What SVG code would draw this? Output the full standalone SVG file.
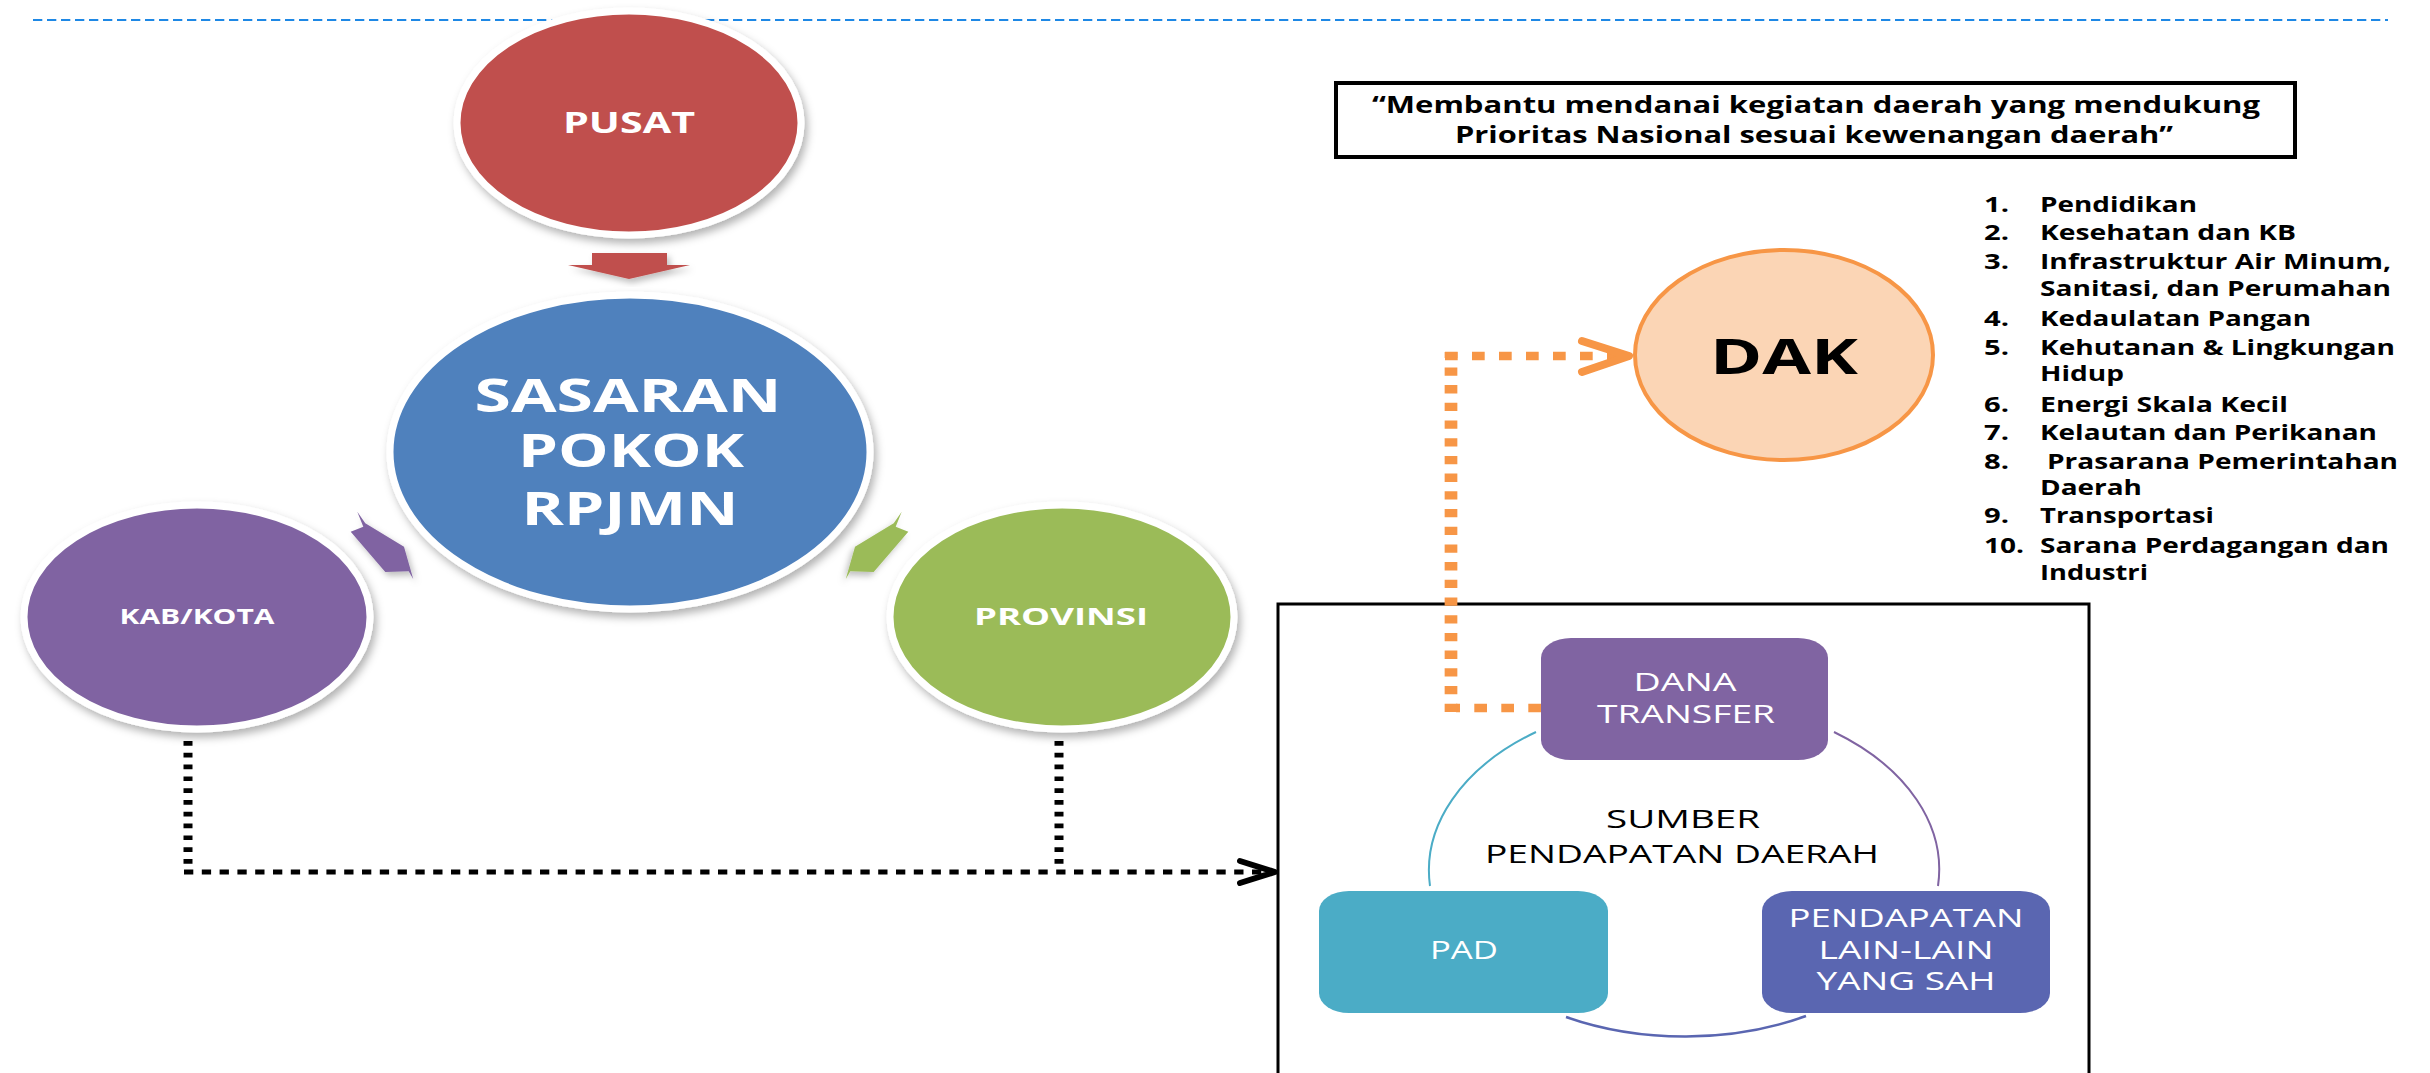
<svg xmlns="http://www.w3.org/2000/svg" width="2430" height="1073" viewBox="0 0 2430 1073">
<defs>
<filter id="sh" x="-20%" y="-20%" width="140%" height="140%">
<feDropShadow dx="3" dy="5" stdDeviation="4" flood-color="#000" flood-opacity="0.3"/>
</filter>
<filter id="sh2" x="-30%" y="-30%" width="160%" height="160%">
<feDropShadow dx="3" dy="4" stdDeviation="3" flood-color="#000" flood-opacity="0.25"/>
</filter>
<style>
.bubble{stroke:#fff;stroke-width:7;filter:url(#sh)}
.wb{font-family:"Open Sans","Liberation Sans",sans-serif;font-weight:bold;fill:#fff;text-anchor:middle}
.wr{font-family:"Open Sans","Liberation Sans",sans-serif;fill:#fff;text-anchor:middle}
.kb{font-family:"Open Sans","Liberation Sans",sans-serif;font-weight:bold;fill:#000}
.kr{font-family:"Open Sans","Liberation Sans",sans-serif;fill:#000;text-anchor:middle}
.list{font-size:21px}
.dotk{fill:none;stroke:#000}
.doto{fill:none;stroke:#F79646}
</style>
</defs>
<rect width="2430" height="1073" fill="#fff"/>
<line x1="33" y1="20" x2="2388" y2="20" stroke="#1E88E5" stroke-width="2.2" stroke-dasharray="9.3 4.7"/>

<g id="pusat">
<ellipse class="bubble" cx="629" cy="123" rx="172" ry="112" fill="#C0504D"/>
<text class="wb" x="629" y="133" font-size="29" textLength="132" lengthAdjust="spacingAndGlyphs">PUSAT</text>
</g>
<g id="arrow-pusat">
<polygon points="592,253 667,253 667,265 690,265 629,279 568,265 592,265" fill="#C0504D" filter="url(#sh2)"/>
</g>
<g id="sasaran">
<ellipse class="bubble" cx="630" cy="452" rx="240" ry="157" fill="#4F81BD"/>
<text class="wb" x="628" y="412" font-size="46" textLength="307" lengthAdjust="spacingAndGlyphs">SASARAN</text>
<text class="wb" x="631" y="467" font-size="46" textLength="226" lengthAdjust="spacingAndGlyphs">POKOK</text>
<text class="wb" x="630" y="525" font-size="46" textLength="217" lengthAdjust="spacingAndGlyphs">RPJMN</text>
</g>
<g id="kabkota">
<ellipse class="bubble" cx="197" cy="617" rx="173" ry="112" fill="#8064A2"/>
<text class="wb" x="197" y="624" font-size="22" textLength="155" lengthAdjust="spacingAndGlyphs">KAB/KOTA</text>
</g>
<g id="arrow-kab">
<polygon points="357.3,511.7 365.3,523.3 404,546.7 413.3,579.3 408.7,571.3 385.3,572 350.7,531.7 363.3,526.7" fill="#8064A2" filter="url(#sh2)"/>
</g>
<g id="provinsi">
<ellipse class="bubble" cx="1062" cy="617" rx="172" ry="112" fill="#9BBB59"/>
<text class="wb" x="1061" y="625" font-size="23" textLength="174" lengthAdjust="spacingAndGlyphs">PROVINSI</text>
</g>
<g id="arrow-prov">
<polygon transform="translate(1259,0) scale(-1,1)" points="357.3,511.7 365.3,523.3 404,546.7 413.3,579.3 408.7,571.3 385.3,572 350.7,531.7 363.3,526.7" fill="#9BBB59" filter="url(#sh2)"/>
</g>

<g id="quote">
<rect x="1336" y="83" width="959" height="74" fill="#fff" stroke="#000" stroke-width="4"/>
<text class="kb" x="1816" y="113" font-size="23" text-anchor="middle" textLength="888" lengthAdjust="spacingAndGlyphs">“Membantu mendanai kegiatan daerah yang mendukung</text>
<text class="kb" x="1814" y="143" font-size="23" text-anchor="middle" textLength="718" lengthAdjust="spacingAndGlyphs">Prioritas Nasional sesuai kewenangan daerah”</text>
</g>

<g id="dak">
<ellipse cx="1784" cy="355" rx="149" ry="105" fill="#FBD5B5" stroke="#F79646" stroke-width="4"/>
<text class="kb" x="1784" y="374" font-size="48" text-anchor="middle" textLength="148" lengthAdjust="spacingAndGlyphs">DAK</text>
</g>

<g id="dak-list" class="kb list">
<text x="1984" y="212" textLength="25" lengthAdjust="spacingAndGlyphs">1.</text><text x="2040" y="212" textLength="157" lengthAdjust="spacingAndGlyphs">Pendidikan</text>
<text x="1984" y="240" textLength="25" lengthAdjust="spacingAndGlyphs">2.</text><text x="2040" y="240" textLength="256" lengthAdjust="spacingAndGlyphs">Kesehatan dan KB</text>
<text x="1984" y="269" textLength="25" lengthAdjust="spacingAndGlyphs">3.</text><text x="2040" y="269" textLength="351" lengthAdjust="spacingAndGlyphs">Infrastruktur Air Minum,</text>
<text x="2040" y="296" textLength="351" lengthAdjust="spacingAndGlyphs">Sanitasi, dan Perumahan</text>
<text x="1984" y="326" textLength="25" lengthAdjust="spacingAndGlyphs">4.</text><text x="2040" y="326" textLength="271" lengthAdjust="spacingAndGlyphs">Kedaulatan Pangan</text>
<text x="1984" y="355" textLength="25" lengthAdjust="spacingAndGlyphs">5.</text><text x="2040" y="355" textLength="355" lengthAdjust="spacingAndGlyphs">Kehutanan &amp; Lingkungan</text>
<text x="2040" y="381" textLength="84" lengthAdjust="spacingAndGlyphs">Hidup</text>
<text x="1984" y="412" textLength="25" lengthAdjust="spacingAndGlyphs">6.</text><text x="2040" y="412" textLength="248" lengthAdjust="spacingAndGlyphs">Energi Skala Kecil</text>
<text x="1984" y="440" textLength="25" lengthAdjust="spacingAndGlyphs">7.</text><text x="2040" y="440" textLength="337" lengthAdjust="spacingAndGlyphs">Kelautan dan Perikanan</text>
<text x="1984" y="469" textLength="25" lengthAdjust="spacingAndGlyphs">8.</text><text x="2047" y="469" textLength="351" lengthAdjust="spacingAndGlyphs">Prasarana Pemerintahan</text>
<text x="2040" y="495" textLength="102" lengthAdjust="spacingAndGlyphs">Daerah</text>
<text x="1984" y="523" textLength="25" lengthAdjust="spacingAndGlyphs">9.</text><text x="2040" y="523" textLength="174" lengthAdjust="spacingAndGlyphs">Transportasi</text>
<text x="1984" y="553" textLength="40" lengthAdjust="spacingAndGlyphs">10.</text><text x="2040" y="553" textLength="349" lengthAdjust="spacingAndGlyphs">Sarana Perdagangan dan</text>
<text x="2040" y="580" textLength="108" lengthAdjust="spacingAndGlyphs">Industri</text>
</g>

<g id="sumber-box">
<rect x="1278" y="604" width="811" height="520" fill="none" stroke="#000" stroke-width="3"/>
<path d="M1536 732 A255 170 0 0 0 1430 886" fill="none" stroke="#4BACC6" stroke-width="2"/>
<path d="M1834 732 A255 170 0 0 1 1938 886" fill="none" stroke="#8064A2" stroke-width="2"/>
<path d="M1566 1017 A255 170 0 0 0 1806 1016" fill="none" stroke="#5A66B1" stroke-width="2.5"/>
<text class="kr" x="1683" y="828" font-size="25" textLength="154" lengthAdjust="spacingAndGlyphs">SUMBER</text>
<text class="kr" x="1682" y="863" font-size="25" textLength="394" lengthAdjust="spacingAndGlyphs">PENDAPATAN DAERAH</text>
</g>
<g id="dana-transfer">
<rect x="1541" y="638" width="287" height="122" rx="30" ry="20" fill="#8064A2"/>
<text class="wr" x="1685" y="691" font-size="25" textLength="103" lengthAdjust="spacingAndGlyphs">DANA</text>
<text class="wr" x="1686" y="723" font-size="25" textLength="178" lengthAdjust="spacingAndGlyphs">TRANSFER</text>
</g>
<g id="pad">
<rect x="1319" y="891" width="289" height="122" rx="30" ry="20" fill="#4BACC6"/>
<text class="wr" x="1464" y="959" font-size="25" textLength="68" lengthAdjust="spacingAndGlyphs">PAD</text>
</g>
<g id="lain-lain">
<rect x="1762" y="891" width="288" height="122" rx="30" ry="20" fill="#5A66B1"/>
<text class="wr" x="1906" y="927" font-size="25" textLength="235" lengthAdjust="spacingAndGlyphs">PENDAPATAN</text>
<text class="wr" x="1906" y="959" font-size="25" textLength="175" lengthAdjust="spacingAndGlyphs">LAIN-LAIN</text>
<text class="wr" x="1906" y="990" font-size="25" textLength="179" lengthAdjust="spacingAndGlyphs">YANG SAH</text>
</g>

<g id="connectors">
<path class="dotk" d="M188 741 V868" stroke-width="9" stroke-dasharray="4.7 7.1"/>
<path class="dotk" d="M1059 741 V868" stroke-width="9" stroke-dasharray="4.7 7.1"/>
<path class="dotk" d="M184 872 H1268" stroke-width="5" stroke-dasharray="9.3 8.5"/>
<polyline class="dotk" points="1240,861 1275,872 1240,883" stroke-width="6" stroke-linecap="round" stroke-linejoin="round"/>
<path class="doto" d="M1541 708 H1456" stroke-width="8.4" stroke-dasharray="12.7 14.3"/>
<path class="doto" d="M1451 712 V352" stroke-width="12.7" stroke-dasharray="8.3 9.4"/>
<path class="doto" d="M1445 356 H1622" stroke-width="8.4" stroke-dasharray="12.7 14.3"/>
<polyline class="doto" points="1582,341 1629,356 1582,372" stroke-width="8" stroke-linecap="round" stroke-linejoin="round"/>
</g>
</svg>
